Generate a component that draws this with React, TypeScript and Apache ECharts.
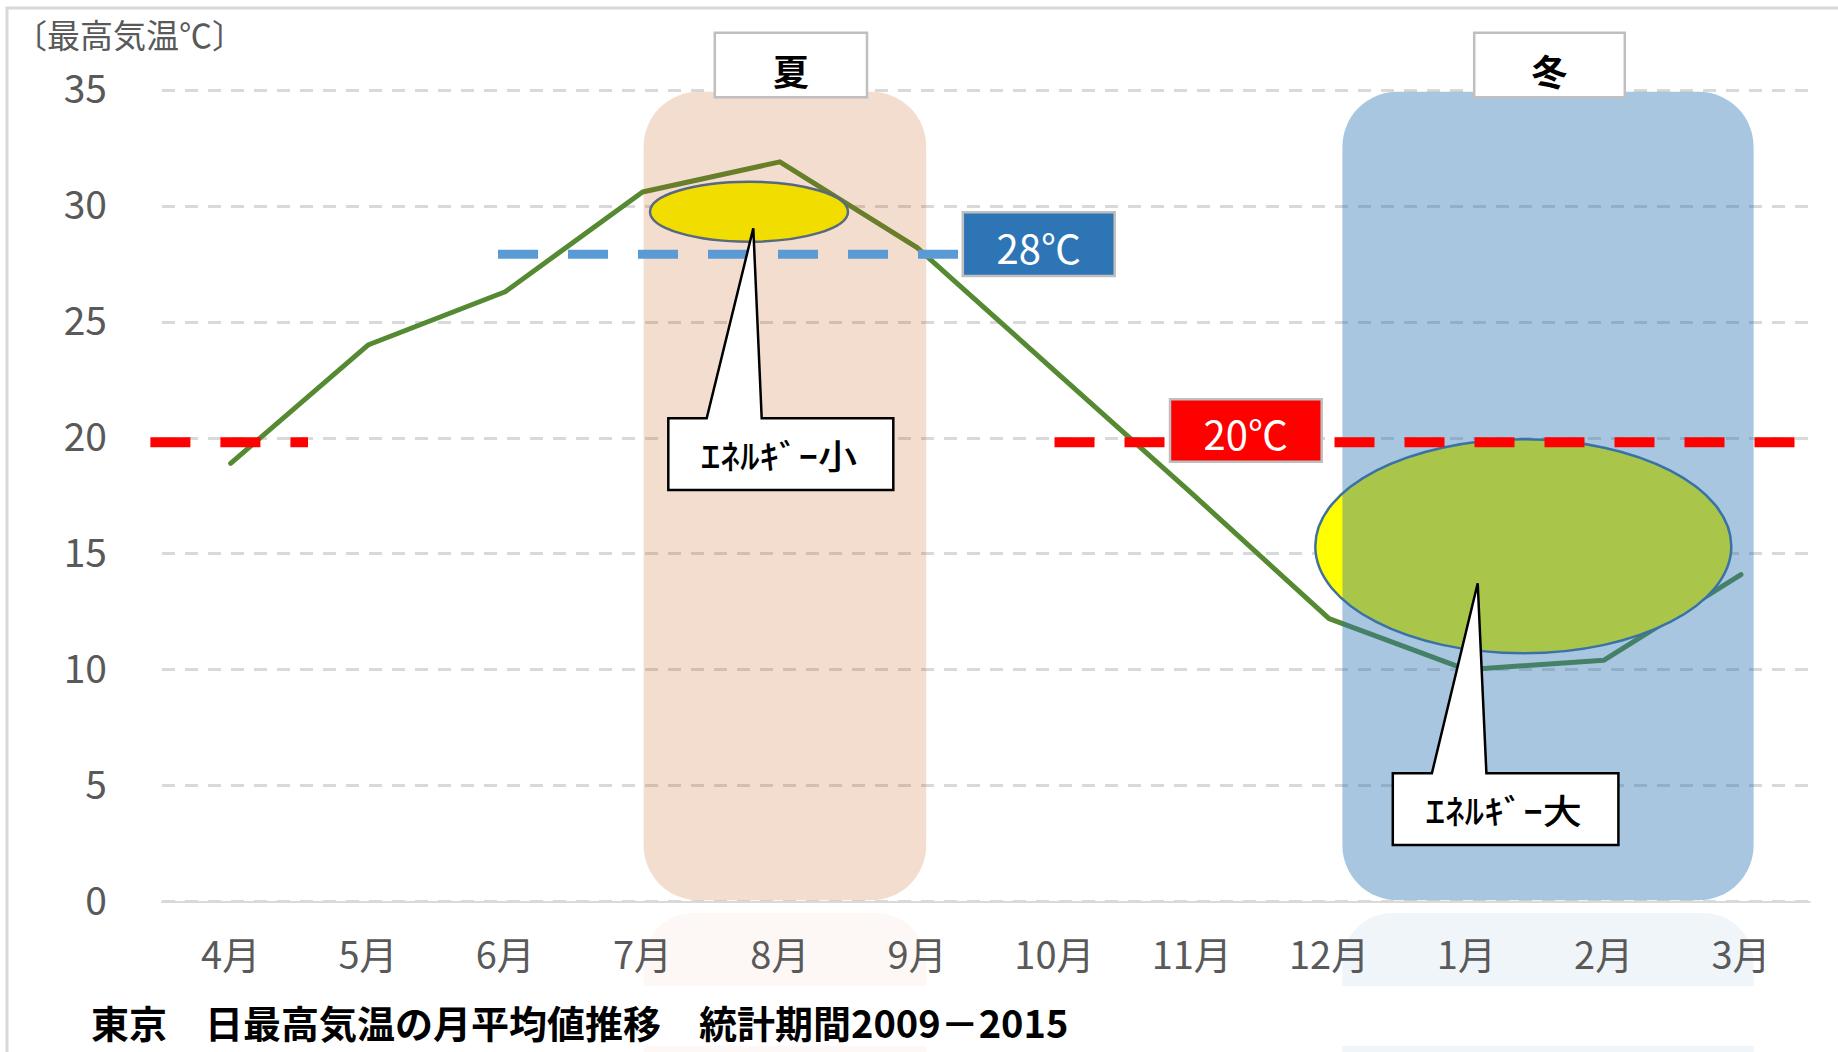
import React, { useEffect, useRef } from "react";
import * as echarts from "echarts";

// ---- data ----
const months = ["4月", "5月", "6月", "7月", "8月", "9月", "10月", "11月", "12月", "1月", "2月", "3月"];
const maxTemps = [18.9, 24.0, 26.3, 30.6, 31.9, 28.2, 22.9, 17.6, 12.2, 10.0, 10.4, 14.1];
const yMin = 0;
const yMax = 35;
const yInterval = 5;
const coolingSetpoint = 28;
const heatingSetpoint = 20;
const coolingLabel = "28℃";
const heatingLabel = "20℃";
const seasonLabels = ["夏", "冬"];
const calloutTexts = ["ｴﾈﾙｷﾞｰ小", "ｴﾈﾙｷﾞｰ大"];
const yAxisTitle = "〔最高気温℃〕";
const chartTitle = "東京　日最高気温の月平均値推移　統計期間2009－2015";

const FONT = "'Noto Sans CJK JP', 'Noto Sans', sans-serif";
const GRAY_TEXT = "#595959";

function txt(x: number, y: number, str: string, size: number, color: string, weight: string, align: string, z: number, extra: any = {}) {
  return {
    type: "text",
    x,
    y,
    z,
    ...extra,
    style: {
      text: str,
      fill: color,
      fontSize: size,
      fontFamily: FONT,
      fontWeight: weight,
      align,
      verticalAlign: "middle",
      textAlign: align,
      textVerticalAlign: "middle",
    },
  };
}

function callout(bx: number, by: number, bw: number, bh: number, baseL: number, baseR: number, tipX: number, tipY: number) {
  return {
    type: "polygon",
    z: 8,
    shape: {
      points: [
        [bx, by],
        [baseL, by],
        [tipX, tipY],
        [baseR, by],
        [bx + bw, by],
        [bx + bw, by + bh],
        [bx, by + bh],
      ],
    },
    style: { fill: "#ffffff", stroke: "#000000", lineWidth: 2.5, lineJoin: "miter" },
  };
}

function buildGraphics(y28: number, y20: number) {
  const els: any[] = [];
  // outer frame
  els.push({
    type: "rect",
    z: 0,
    shape: { x: 7, y: 8, width: 1900, height: 1100 },
    style: { fill: "none", stroke: "#d9d9d9", lineWidth: 3 },
  });
  // reflections below axis
  const refl = (x: number, w: number, color: string) => [
    { type: "rect", z: 1, shape: { x, y: 913, width: w, height: 73, r: [50, 50, 0, 0] }, style: { fill: color } },
    { type: "rect", z: 1, shape: { x, y: 1046, width: w, height: 12 }, style: { fill: color } },
  ];
  els.push(...refl(643.6, 282.6, "#fdf8f5"));
  els.push(...refl(1342.4, 411.2, "#f0f5fa"));
  // ellipses (under translucent season overlays)
  els.push({
    type: "ellipse",
    z: 3,
    shape: { cx: 749, cy: 211.7, rx: 99, ry: 30 },
    style: { fill: "#ffff00", stroke: "#41719c", lineWidth: 2.5 },
  });
  els.push({
    type: "ellipse",
    z: 3,
    shape: { cx: 1523.3, cy: 546.3, rx: 208, ry: 107 },
    style: { fill: "#ffff00", stroke: "#41719c", lineWidth: 2.5 },
  });
  // season overlays
  els.push({
    type: "rect",
    z: 4,
    shape: { x: 643.6, y: 91.7, width: 282.6, height: 808.6, r: 55 },
    style: { fill: "rgba(186,74,0,0.19)" },
  });
  els.push({
    type: "rect",
    z: 4,
    shape: { x: 1342.4, y: 91.7, width: 411.2, height: 808.6, r: 55 },
    style: { fill: "rgba(46,117,182,0.41)" },
  });
  // setpoint dashed lines
  const b = y28 + 2;
  els.push({
    type: "line",
    z: 5,
    shape: { x1: 498, y1: b, x2: 958, y2: b },
    style: { stroke: "#5b9bd5", lineWidth: 9, lineDash: [40, 30] },
  });
  const r = y20 + 4.5;
  els.push({
    type: "line",
    z: 5,
    shape: { x1: 150.4, y1: r, x2: 308, y2: r },
    style: { stroke: "#ff0000", lineWidth: 10, lineDash: [40, 30] },
  });
  els.push({
    type: "line",
    z: 5,
    shape: { x1: 1054.5, y1: r, x2: 1794.5, y2: r },
    style: { stroke: "#ff0000", lineWidth: 10, lineDash: [40, 30] },
  });
  // setpoint label boxes
  els.push({
    type: "rect",
    z: 6,
    shape: { x: 962.8, y: 212.3, width: 151.9, height: 63.7 },
    style: { fill: "#2e75b6", stroke: "#bfbfbf", lineWidth: 2.5 },
  });
  els.push(txt(1038.7, 247, coolingLabel, 40, "#ffffff", "normal", "center", 7));
  els.push({
    type: "rect",
    z: 6,
    shape: { x: 1170, y: 399.3, width: 151.7, height: 62.4 },
    style: { fill: "#ff0000", stroke: "#bfbfbf", lineWidth: 2.5 },
  });
  els.push(txt(1245.8, 433, heatingLabel, 40, "#ffffff", "normal", "center", 7));
  // season label boxes
  els.push({
    type: "rect",
    z: 6,
    shape: { x: 714.8, y: 32.7, width: 152.2, height: 64.6 },
    style: { fill: "#ffffff", stroke: "#bfbfbf", lineWidth: 2.5 },
  });
  els.push(txt(791, 70, seasonLabels[0], 36, "#000000", "bold", "center", 7));
  els.push({
    type: "rect",
    z: 6,
    shape: { x: 1474.2, y: 32.7, width: 150.6, height: 64.6 },
    style: { fill: "#ffffff", stroke: "#bfbfbf", lineWidth: 2.5 },
  });
  els.push(txt(1549.5, 70, seasonLabels[1], 36, "#000000", "bold", "center", 7));
  // callouts
  els.push(callout(668.3, 418.3, 225, 71.7, 706.7, 761.7, 753.3, 228.3));
  els.push(txt(779, 455, calloutTexts[0], 34, "#000000", "500", "center", 9, { scaleX: 1.15 }));
  els.push(callout(1392.8, 773.3, 225.6, 71.7, 1431.9, 1486.4, 1477.7, 583.3));
  els.push(txt(1503.7, 810, calloutTexts[1], 34, "#000000", "500", "center", 9, { scaleX: 1.15 }));
  // axis title and chart title
  els.push(txt(14, 34, yAxisTitle, 33, GRAY_TEXT, "normal", "left", 7));
  els.push(txt(91, 1021, chartTitle, 38, "#000000", "bold", "left", 7));
  return els;
}

export default function App() {
  const ref = useRef<HTMLDivElement>(null);
  useEffect(() => {
    if (!ref.current) return;
    const chart = echarts.init(ref.current, null, { renderer: "svg" });
    chart.setOption({
      animation: false,
      backgroundColor: "#ffffff",
      textStyle: { fontFamily: FONT },
      grid: { left: 162, right: 28.4, top: 90, bottom: 150.5, containLabel: false },
      xAxis: {
        type: "category",
        data: months,
        boundaryGap: true,
        z: 10,
        axisTick: { show: false },
        axisLine: { show: true, lineStyle: { color: "#d9d9d9", width: 2 } },
        axisLabel: { color: GRAY_TEXT, fontSize: 38, margin: 32, fontFamily: FONT },
        splitLine: { show: false },
      },
      yAxis: {
        type: "value",
        min: yMin,
        max: yMax,
        interval: yInterval,
        axisLine: { show: false },
        axisTick: { show: false },
        axisLabel: {
          color: GRAY_TEXT,
          fontSize: 39,
          margin: 55,
          fontFamily: FONT,
          verticalAlign: "bottom",
          lineHeight: 8,
        },
        splitLine: { show: true, lineStyle: { color: "#d9d9d9", width: 3, type: [13, 10] } },
      },
      series: [
        {
          type: "line",
          data: maxTemps,
          z: 2,
          showSymbol: false,
          symbol: "none",
          lineStyle: { color: "#558a32", width: 5, cap: "round", join: "round" },
          itemStyle: { color: "#558a32" },
        },
      ],
    });
    const y28 = chart.convertToPixel({ yAxisIndex: 0 }, coolingSetpoint) as number;
    const y20 = chart.convertToPixel({ yAxisIndex: 0 }, heatingSetpoint) as number;
    chart.setOption({ graphic: { elements: buildGraphics(y28, y20) } });
    return () => chart.dispose();
  }, []);
  return (
    <div
      ref={ref}
      style={{ position: "absolute", left: 0, top: 0, width: 1838, height: 1052 }}
    />
  );
}
